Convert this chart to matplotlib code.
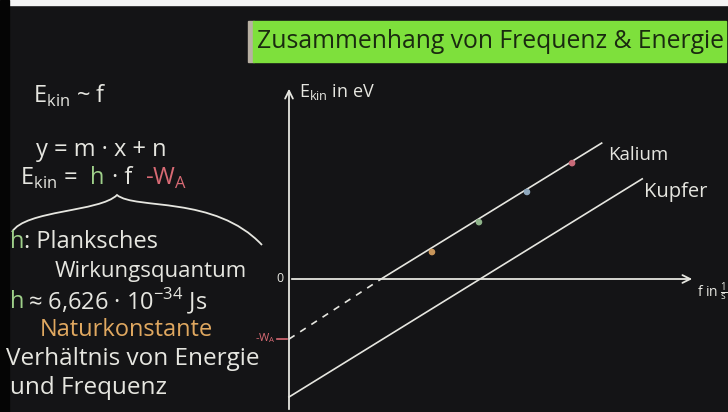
import matplotlib.pyplot as plt
import matplotlib.patches as mpatches
from matplotlib.path import Path
import numpy as np

# board geometry (pixels of the 728x412 picture)
W, H = 728, 412
x0_px, y0_px = 289, 279          # origin of the E-f diagram
px_per_f = 16.9                  # pixels per 1e14 Hz
px_per_E = 26.7                  # pixels per eV

# data (f in 1e14 1/s, E in eV)
kalium_f = [5.45, 18.5]
kalium_E = [0.0, 5.09]
kalium_dash_f = [0.0, 5.45]
kalium_dash_E = [-2.25, 0.0]
kupfer_f = [0.0, 20.9]
kupfer_E = [-4.42, 3.75]
point_f = [8.46, 11.24, 14.08, 16.75]
point_E = [1.01, 2.13, 3.26, 4.34]
point_colors = ['#c8955a', '#8fb48a', '#8fa8bd', '#c86a78']
wa_kalium = -2.25

board = '#141416'
chalk = '#e6e6e0'
green_chalk = '#9fd08a'
red_chalk = '#d86a74'
orange_chalk = '#e0a860'

plt.rcParams['font.family'] = ['Open Sans', 'DejaVu Sans']
plt.rcParams['mathtext.fontset'] = 'custom'
plt.rcParams['mathtext.rm'] = 'Open Sans'

fig = plt.figure(figsize=(W / 100, H / 100), dpi=100)
fig.patch.set_facecolor(board)


def fx(x):
    return x / W


def fy(y):
    return 1 - y / H


ax = fig.add_axes([0, 0, 1, 1])
ax.set_facecolor(board)
ax.set_xlim(-x0_px / px_per_f, (W - x0_px) / px_per_f)
ax.set_ylim(-(H - y0_px) / px_per_E, y0_px / px_per_E)
ax.axis('off')

# frame bits: white strip on top, dark strip on the left
fig.patches.append(mpatches.Rectangle((0, fy(5)), 1, 5 / H, transform=fig.transFigure,
                                      color='#f4f4f4', zorder=0))
fig.patches.append(mpatches.Rectangle((0, 0), fx(9), 1, transform=fig.transFigure,
                                      color='#050505', zorder=0))

# axes of the diagram
ax.annotate('', xy=(0, (y0_px - 86) / px_per_E), xytext=(0, -(H - y0_px) / px_per_E),
            arrowprops=dict(arrowstyle='->', color=chalk, lw=1.3, mutation_scale=14))
ax.annotate('', xy=((695 - x0_px) / px_per_f, 0), xytext=(0, 0),
            arrowprops=dict(arrowstyle='->', color=chalk, lw=1.3, mutation_scale=14))

# lines
ax.plot(kalium_f, kalium_E, color=chalk, lw=1.2)
ax.plot(kalium_dash_f, kalium_dash_E, color=chalk, lw=1.2, ls=(0, (4, 4)))
ax.plot(kupfer_f, kupfer_E, color=chalk, lw=1.2)
ax.scatter(point_f, point_E, s=14, c=point_colors, zorder=3)
ax.plot([-0.7, -0.1], [wa_kalium, wa_kalium], color=red_chalk, lw=1.2)

ax.text(-0.3, 0, '0', color=chalk, fontsize=9, ha='right', va='center')
ax.text(-0.8, wa_kalium + 0.05, r'-W$_{\mathrm{A}}$', color=red_chalk, fontsize=8, ha='right', va='center')
ax.text(kalium_f[1] + 0.4, kalium_E[1] - 0.45, 'Kalium', color=chalk, fontsize=13.5, va='center')
ax.text(kupfer_f[1] + 0.1, kupfer_E[1] - 0.5, 'Kupfer', color=chalk, fontsize=14.5, va='center')
ax.text(0.6, (y0_px - 92) / px_per_E, r'E$_{\mathrm{kin}}$ in eV', color=chalk, fontsize=13, va='center')
ax.text((697 - x0_px) / px_per_f, -0.05, r'f in $\mathrm{\frac{1}{s}}$', color=chalk, fontsize=10, va='top')

# title strip
fig.patches.append(mpatches.Rectangle((fx(248), fy(62)), 6 / W, 41 / H, transform=fig.transFigure,
                                      color='#b8b0a2', zorder=1))
fig.patches.append(mpatches.Rectangle((fx(253), fy(62)), 473 / W, 41 / H, transform=fig.transFigure,
                                      color='#7ee03c', zorder=1))
fig.text(fx(490), fy(42), 'Zusammenhang von Frequenz & Energie', color='#1a2a10',
         fontsize=17.8, ha='center', va='center', zorder=2)

# left side notes
fs = 16
fig.text(fx(33), fy(96), r'E$_{\mathrm{kin}}$ ~ f', color=chalk, fontsize=fs + 1, va='center')
fig.text(fx(36), fy(150), 'y = m · x + n', color=chalk, fontsize=fs + 1, va='center')
fig.text(fx(20), fy(178), r'E$_{\mathrm{kin}}$ = ', color=chalk, fontsize=fs + 1, va='center')
fig.text(fx(90), fy(178), 'h', color=green_chalk, fontsize=fs + 1, va='center')
fig.text(fx(112), fy(178), '· f', color=chalk, fontsize=fs + 1, va='center')
fig.text(fx(145), fy(178), r'-W$_{\mathrm{A}}$', color=red_chalk, fontsize=fs + 1, va='center')

# curly brace under the formula
verts = [(12, 232), (25, 210), (100, 212), (117, 195),
         (135, 210), (215, 195), (262, 245)]
verts = [(fx(a), fy(b)) for a, b in verts]
codes = [Path.MOVETO, Path.CURVE4, Path.CURVE4, Path.CURVE4,
         Path.CURVE4, Path.CURVE4, Path.CURVE4]
fig.patches.append(mpatches.PathPatch(Path(verts, codes), transform=fig.transFigure,
                                      fill=False, edgecolor=chalk, lw=1.3))

fig.text(fx(10), fy(242), 'h', color=green_chalk, fontsize=fs + 1, va='center')
fig.text(fx(24), fy(242), ': Planksches', color=chalk, fontsize=fs + 1, va='center')
fig.text(fx(55), fy(272), 'Wirkungsquantum', color=chalk, fontsize=fs, va='center')
fig.text(fx(10), fy(302), 'h', color=green_chalk, fontsize=fs + 1, va='center')
fig.text(fx(28), fy(302), r'≈ 6,626 · 10$^{-34}$ Js', color=chalk, fontsize=fs + 1, va='center')
fig.text(fx(40), fy(330), 'Naturkonstante', color=orange_chalk, fontsize=fs + 1, va='center')
fig.text(fx(6), fy(359), 'Verhältnis von Energie', color=chalk, fontsize=fs + 1.5, va='center')
fig.text(fx(10), fy(388), 'und Frequenz', color=chalk, fontsize=fs + 1.5, va='center')

fig.savefig('out.png', dpi=100, facecolor=fig.get_facecolor())
